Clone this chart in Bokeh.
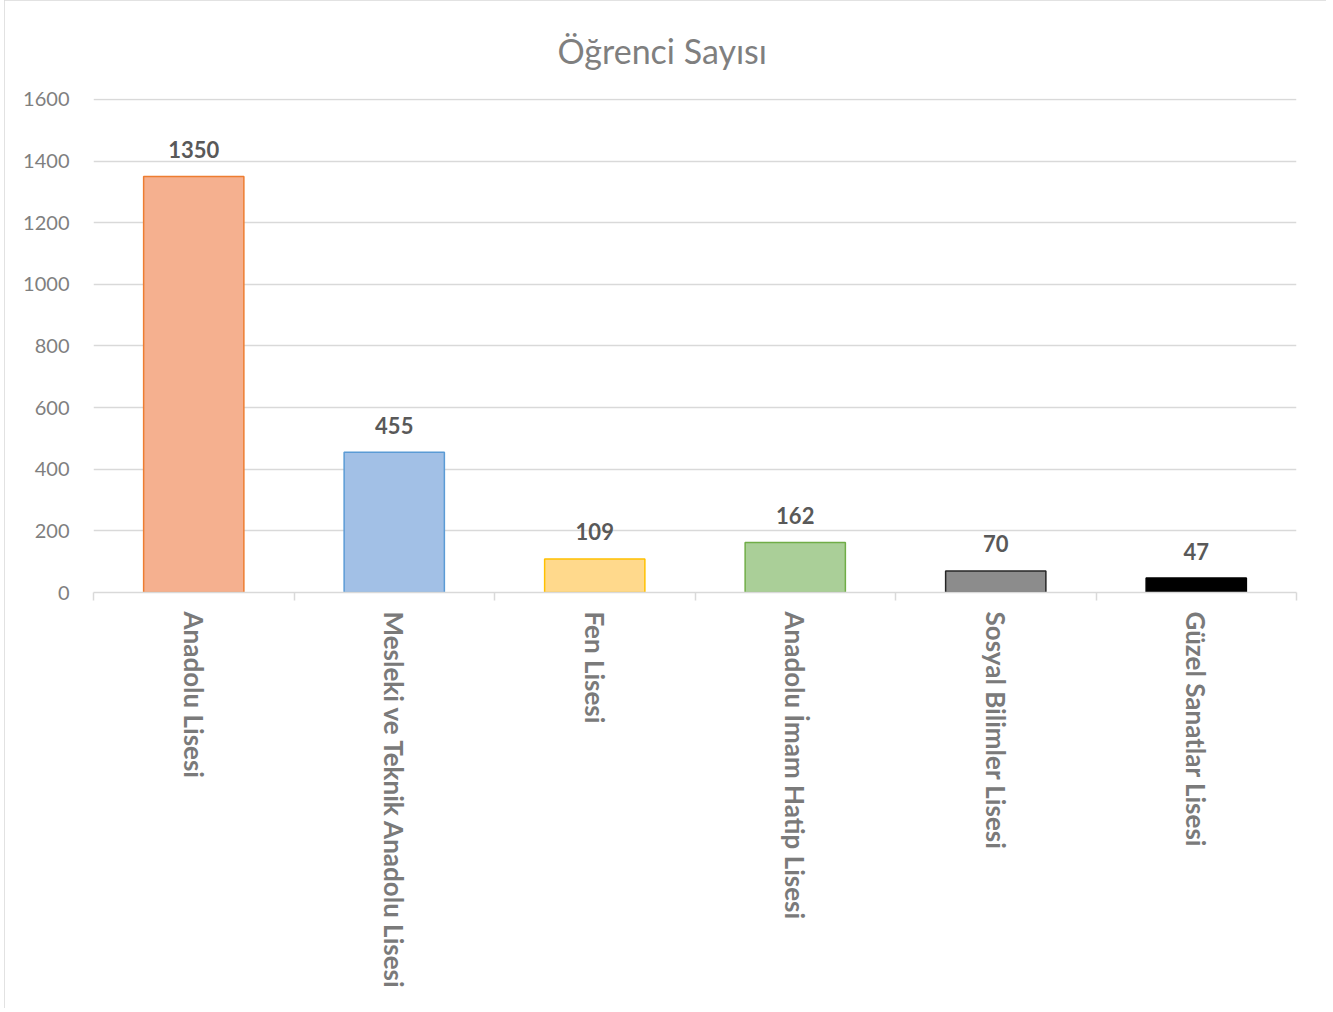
import math
from bokeh.plotting import figure
from bokeh.models import ColumnDataSource, FixedTicker, Range1d, LabelSet
from bokeh.core.properties import value
from bokeh.embed import file_html
from bokeh.resources import INLINE

# ---- data ----
categories = ["Anadolu Lisesi", "Mesleki ve Teknik Anadolu Lisesi", "Fen Lisesi",
              "Anadolu İmam Hatip Lisesi", "Sosyal Bilimler Lisesi", "Güzel Sanatlar Lisesi"]
values = [1350, 455, 109, 162, 70, 47]
y_ticks = [0, 200, 400, 600, 800, 1000, 1200, 1400, 1600]
title_text = "Öğrenci Sayısı"

# ---- styles ----
fill_colors = ["#F5B08F", "#A2C0E6", "#FFD98C", "#AACF98", "#8C8C8C", "#000000"]
line_colors = ["#ED7D31", "#5B9BD5", "#FFC000", "#70AD47", "#262626", "#000000"]
FONT = "Lato"

positions = [i + 1 for i in range(len(categories))]
boundaries = [i + 0.5 for i in range(len(categories) + 1)]

src = ColumnDataSource(dict(
    x=positions, top=values, fill=fill_colors, line=line_colors,
    label=[str(v) for v in values],
))

p = figure(width=1322, height=1008, output_backend="svg", toolbar_location=None,
           x_range=Range1d(0.5, len(categories) + 0.5), y_range=Range1d(0, 1603),
           min_border_left=89, min_border_right=30, min_border_top=98, min_border_bottom=416)

p.vbar(x="x", top="top", bottom=0, width=0.5, source=src,
       fill_color="fill", line_color="line", line_width=1.5)

labels = LabelSet(x="x", y="top", text="label", source=src, y_offset=27,
                  text_align="center", text_baseline="middle",
                  text_font=value(FONT), text_font_size="22px", text_font_style="bold",
                  text_color="#595959")
p.add_layout(labels)

# title
p.title.text = title_text
p.title.align = "left"
p.title.offset = 464
p.title.standoff = 55
p.title.text_font = FONT
p.title.text_font_size = "34px"
p.title.text_font_style = "normal"
p.title.text_color = "#7F7F7F"

# axes
p.yaxis.ticker = FixedTicker(ticks=y_ticks)
p.yaxis.axis_line_color = None
p.yaxis.major_tick_line_color = None
p.yaxis.minor_tick_line_color = None
p.yaxis.major_label_standoff = 18
p.yaxis.major_label_text_font = FONT
p.yaxis.major_label_text_font_size = "20px"
p.yaxis.major_label_text_color = "#7F7F7F"

p.xaxis.ticker = FixedTicker(ticks=positions, minor_ticks=boundaries)
p.xaxis.major_label_overrides = {pos: cat for pos, cat in zip(positions, categories)}
p.xaxis.major_label_orientation = -math.pi / 2
p.xaxis.major_tick_out = 0
p.xaxis.major_tick_in = 0
p.xaxis.minor_tick_out = 8
p.xaxis.minor_tick_in = 0
p.xaxis.minor_tick_line_color = "#D9D9D9"
p.xaxis.minor_tick_line_width = 1.5
p.xaxis.axis_line_color = "#D9D9D9"
p.xaxis.axis_line_width = 1.5
p.xaxis.major_label_standoff = 11
p.xaxis.major_label_text_font = FONT
p.xaxis.major_label_text_font_size = "26px"
p.xaxis.major_label_text_font_style = "bold"
p.xaxis.major_label_text_color = "#7A7A7A"

p.xgrid.grid_line_color = None
p.ygrid.grid_line_color = "#D9D9D9"
p.ygrid.grid_line_width = 1.5
p.outline_line_color = None
p.styles = {"margin-left": "4px", "outline": "2px solid #D9D9D9", "outline-offset": "-2px"}

open("out.html", "w").write(file_html(p, INLINE))
